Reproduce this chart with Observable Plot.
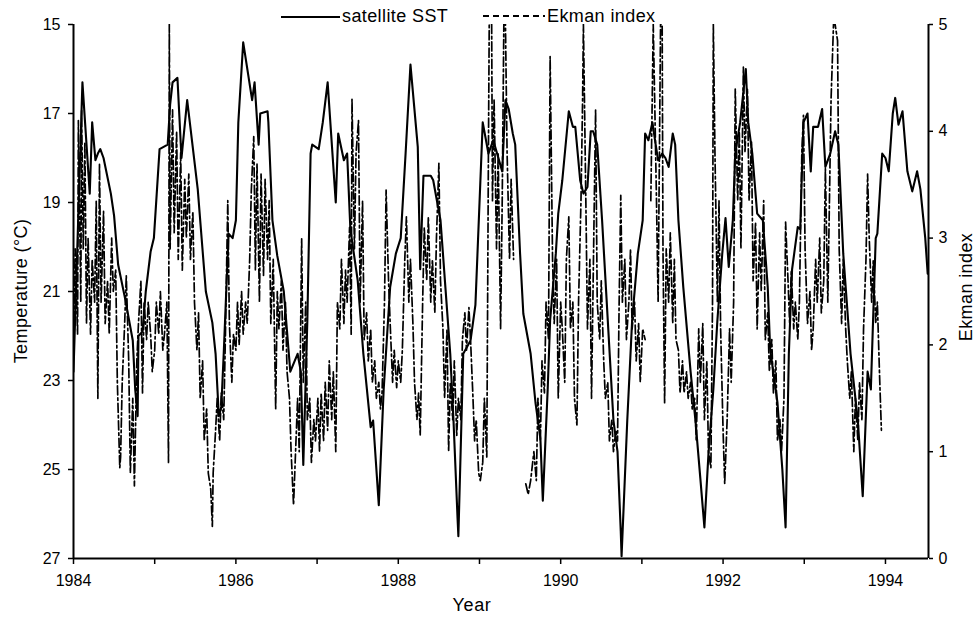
<!DOCTYPE html>
<html>
<head>
<meta charset="utf-8">
<script src="https://cdn.jsdelivr.net/npm/d3@7"></script>
<script src="https://cdn.jsdelivr.net/npm/@observablehq/plot@0.6"></script>
<style>
  html, body { margin: 0; padding: 0; background: #fff; }
  #wrap { position: relative; width: 979px; height: 618px; font-family: "Liberation Sans", Arial, Helvetica, sans-serif; }
  #overlay { position: absolute; left: 0; top: 0; pointer-events: none; }
</style>
</head>
<body>
<div id="wrap"></div>
<script>
// ---------- data ----------
const tempDomain = [15, 27];
const ekmanDomain = [0, 5];
const yearDomain = [1984, 1994.53];
const tempTicks = [15, 17, 19, 21, 23, 25, 27];
const ekmanTicks = [0, 1, 2, 3, 4, 5];
const yearTicks = [1984, 1985, 1986, 1987, 1988, 1989, 1990, 1991, 1992, 1993, 1994];
const yearTickLabels = ["1984", "", "1986", "", "1988", "", "1990", "", "1992", "", "1994"];

// satellite SST (°C)
const sst = [
[1984.00,22.8],[1984.11,16.3],[1984.20,18.8],[1984.23,17.2],[1984.27,18.05],[1984.30,17.9],[1984.33,17.8],[1984.37,18.0],
[1984.46,18.8],[1984.50,19.3],[1984.55,20.4],[1984.64,21.2],[1984.73,22.1],[1984.76,23.2],[1984.79,23.8],[1984.80,22.0],
[1984.85,21.9],[1984.89,21.0],[1984.95,20.1],[1984.99,19.8],[1985.06,17.8],[1985.16,17.7],[1985.19,16.8],[1985.22,16.3],
[1985.28,16.2],[1985.33,18.0],[1985.40,16.7],[1985.53,18.7],[1985.63,21.0],[1985.71,21.7],[1985.75,22.4],[1985.79,23.8],
[1985.82,23.6],[1985.85,22.4],[1985.91,19.7],[1985.96,19.8],[1986.00,19.4],[1986.03,17.2],[1986.09,15.4],[1986.20,16.7],
[1986.23,16.3],[1986.28,17.7],[1986.30,17.0],[1986.39,16.95],[1986.40,17.2],[1986.45,19.4],[1986.51,20.2],[1986.59,21.0],
[1986.67,22.8],[1986.76,22.4],[1986.80,22.8],[1986.83,24.9],[1986.88,21.65],[1986.92,17.9],[1986.94,17.7],[1987.02,17.8],
[1987.07,17.2],[1987.13,16.3],[1987.23,19.0],[1987.26,17.45],[1987.33,18.05],[1987.37,17.9],[1987.41,19.6],[1987.50,20.75],
[1987.57,22.4],[1987.66,24.05],[1987.69,23.9],[1987.76,25.8],[1987.82,23.2],[1987.90,20.9],[1987.97,20.15],[1988.03,19.8],
[1988.09,17.9],[1988.15,15.9],[1988.24,17.75],[1988.27,20.5],[1988.31,18.4],[1988.40,18.4],[1988.43,18.5],[1988.48,19.0],
[1988.52,19.4],[1988.58,20.9],[1988.64,22.4],[1988.68,23.9],[1988.73,26.1],[1988.74,26.5],[1988.80,22.4],[1988.89,22.1],
[1988.95,21.3],[1989.04,17.2],[1989.11,17.9],[1989.17,17.6],[1989.28,18.3],[1989.32,16.7],[1989.36,16.9],[1989.41,17.45],
[1989.44,17.7],[1989.50,20.15],[1989.54,21.5],[1989.63,22.4],[1989.69,23.5],[1989.75,24.3],[1989.78,25.7],[1989.84,23.2],
[1989.87,21.65],[1989.94,20.15],[1989.97,19.25],[1990.02,18.5],[1990.10,16.95],[1990.15,17.3],[1990.18,17.3],[1990.24,18.5],
[1990.28,18.8],[1990.33,18.65],[1990.37,17.4],[1990.40,17.4],[1990.45,17.7],[1990.51,19.4],[1990.58,21.65],[1990.65,23.9],
[1990.70,24.6],[1990.74,26.4],[1990.75,26.95],[1990.82,23.9],[1990.88,21.65],[1990.95,20.15],[1991.01,19.4],[1991.04,17.45],
[1991.08,17.6],[1991.13,17.2],[1991.17,17.7],[1991.20,18.05],[1991.25,17.9],[1991.29,18.0],[1991.33,18.2],[1991.38,17.45],
[1991.41,17.7],[1991.45,19.4],[1991.51,20.9],[1991.60,22.8],[1991.66,23.9],[1991.72,25.2],[1991.77,26.3],[1991.82,24.65],
[1991.88,23.2],[1991.93,21.65],[1991.99,20.15],[1992.03,19.35],[1992.07,20.45],[1992.12,19.4],[1992.15,17.9],[1992.21,17.2],
[1992.28,16.0],[1992.31,17.2],[1992.36,17.9],[1992.42,19.25],[1992.49,19.4],[1992.55,20.9],[1992.58,22.3],[1992.67,23.5],
[1992.73,25.0],[1992.77,26.3],[1992.81,22.4],[1992.85,20.5],[1992.92,19.55],[1992.95,19.6],[1992.99,17.2],[1993.04,17.0],
[1993.08,18.3],[1993.11,17.3],[1993.17,17.3],[1993.22,16.9],[1993.26,18.2],[1993.32,17.9],[1993.38,17.4],[1993.42,17.7],
[1993.48,20.15],[1993.57,22.4],[1993.66,23.9],[1993.72,25.6],[1993.78,22.8],[1993.82,23.2],[1993.88,19.8],[1993.90,19.7],
[1993.96,17.9],[1994.00,18.0],[1994.04,18.3],[1994.09,17.0],[1994.12,16.65],[1994.16,17.25],[1994.21,16.95],[1994.27,18.3],
[1994.33,18.75],[1994.39,18.3],[1994.43,18.7],[1994.49,19.8],[1994.52,20.6]
];

// Ekman index (values above 5 are cut at the top of the frame), null = gap
const ek1984 = [[1984.00,1.9],[1984.02,2.9],[1984.05,2.1],[1984.06,4.1],[1984.09,2.4],[1984.10,4.2],[1984.12,2.9],[1984.14,3.9],[1984.16,2.2],[1984.18,3.0],[1984.21,2.1],[1984.23,2.8],[1984.26,2.4],[1984.28,3.35],[1984.30,1.5],[1984.32,3.7],[1984.34,2.4],[1984.37,3.25],[1984.39,2.2],[1984.42,2.6],[1984.44,2.1],[1984.47,3.0],[1984.49,2.5],[1984.52,2.7],[1984.54,1.65],[1984.57,0.85],[1984.58,0.95],[1984.60,1.65],[1984.63,2.2],[1984.65,2.65],[1984.68,1.85],[1984.70,0.8],[1984.73,1.5],[1984.75,0.68],[1984.78,1.85],[1984.80,2.2],[1984.83,2.6],[1984.85,1.55],[1984.87,2.4],[1984.90,2.05],[1984.92,2.4],[1984.95,2.1],[1984.97,1.75]];
const ek1985 = [[1985.00,1.95],[1985.02,2.4],[1985.05,2.1],[1985.07,2.5],[1985.10,1.95],[1985.12,2.1],[1985.15,2.4],[1985.17,0.9],[1985.18,5.0],[1985.19,2.9],[1985.22,4.2],[1985.24,3.05],[1985.27,4.0],[1985.29,2.8],[1985.32,3.8],[1985.34,2.7],[1985.37,3.55],[1985.39,3.0],[1985.42,3.6],[1985.44,2.8],[1985.47,3.25],[1985.49,2.4],[1985.52,1.95],[1985.54,2.3],[1985.56,1.5],[1985.59,1.85],[1985.61,1.1],[1985.64,1.4],[1985.66,0.8],[1985.69,0.65],[1985.71,0.3],[1985.72,0.8],[1985.75,1.2],[1985.77,1.5],[1985.80,1.1],[1985.82,1.55],[1985.85,1.3],[1985.87,2.05],[1985.90,3.35],[1985.92,2.2],[1985.95,1.65],[1985.97,2.1]];
const ek1986 = [[1986.00,1.95],[1986.02,2.4],[1986.04,2.0],[1986.07,2.5],[1986.09,2.1],[1986.12,2.4],[1986.14,2.2],[1986.17,2.8],[1986.19,3.45],[1986.22,3.95],[1986.24,2.7],[1986.26,3.7],[1986.29,2.4],[1986.31,3.6],[1986.34,2.65],[1986.36,3.55],[1986.39,2.8],[1986.41,3.35],[1986.43,2.2],[1986.46,2.8],[1986.49,1.4],[1986.51,2.5],[1986.53,2.15],[1986.56,2.6],[1986.58,1.95],[1986.61,2.4],[1986.63,1.75],[1986.66,1.5],[1986.68,1.0],[1986.71,0.5],[1986.73,0.9],[1986.76,1.5],[1986.78,1.0],[1986.81,3.0],[1986.83,1.65],[1986.86,2.4],[1986.88,1.3],[1986.91,1.5],[1986.93,0.9],[1986.96,1.3],[1986.98,1.1]];
const ek1987 = [[1987.01,1.5],[1987.03,1.0],[1987.05,1.55],[1987.08,1.1],[1987.10,1.65],[1987.13,1.2],[1987.15,1.85],[1987.18,1.3],[1987.20,1.75],[1987.23,1.0],[1987.25,2.4],[1987.28,2.15],[1987.30,2.8],[1987.33,2.2],[1987.35,2.7],[1987.37,2.4],[1987.40,3.1],[1987.42,2.1],[1987.43,4.3],[1987.46,2.9],[1987.48,3.8],[1987.51,4.1],[1987.53,2.4],[1987.56,3.35],[1987.58,2.05],[1987.61,2.3],[1987.63,1.85],[1987.66,2.15],[1987.68,1.65],[1987.71,1.85],[1987.73,1.5],[1987.76,1.65],[1987.78,1.4],[1987.80,1.55],[1987.83,2.4],[1987.85,3.45],[1987.88,2.6],[1987.90,2.2],[1987.93,1.65],[1987.95,1.95],[1987.98,1.6]];
const ek1988 = [[1988.00,1.85],[1988.03,1.65],[1988.05,1.95],[1988.08,2.8],[1988.10,3.2],[1988.13,2.4],[1988.15,2.8],[1988.18,2.2],[1988.20,1.65],[1988.23,1.3],[1988.25,1.55],[1988.27,1.15],[1988.30,2.4],[1988.32,3.1],[1988.35,2.6],[1988.37,3.2],[1988.40,2.4],[1988.42,2.8],[1988.45,2.3],[1988.47,3.0],[1988.50,3.7],[1988.52,2.6],[1988.55,2.15],[1988.57,1.5],[1988.60,2.15],[1988.62,1.0],[1988.64,1.65],[1988.67,1.3],[1988.69,1.85],[1988.72,1.15],[1988.74,1.5],[1988.77,1.3],[1988.79,2.05],[1988.82,2.3],[1988.84,1.95],[1988.87,2.35],[1988.89,2.05],[1988.92,1.5],[1988.94,1.1],[1988.96,1.3],[1988.99,0.8]];
const ek1989 = [[1989.01,0.73],[1989.04,0.9],[1989.06,1.5],[1989.09,0.95],[1989.11,3.8],[1989.12,5.0],[1989.15,5.0],[1989.16,3.35],[1989.18,4.3],[1989.21,2.9],[1989.23,3.8],[1989.26,2.15],[1989.28,3.35],[1989.30,5.0],[1989.32,5.0],[1989.34,3.8],[1989.37,2.8],[1989.39,3.55],[1989.42,2.8],[1989.50,null],[1989.57,0.7],[1989.60,0.6],[1989.63,0.73],[1989.67,1.0],[1989.70,0.73],[1989.72,1.5],[1989.75,1.1],[1989.77,1.85],[1989.80,1.55],[1989.82,2.4],[1989.85,2.05],[1989.87,4.7],[1989.90,2.8],[1989.92,2.2],[1989.95,2.8],[1989.97,1.5]];
const ek1990 = [[1990.00,2.4],[1990.02,2.15],[1990.05,1.65],[1990.07,2.8],[1990.10,3.2],[1990.12,2.15],[1990.15,2.4],[1990.17,1.5],[1990.20,1.25],[1990.22,2.4],[1990.25,3.35],[1990.27,4.3],[1990.28,5.0],[1990.31,3.35],[1990.33,2.15],[1990.36,2.8],[1990.38,1.5],[1990.40,2.6],[1990.43,4.2],[1990.45,2.4],[1990.48,2.05],[1990.50,2.6],[1990.53,1.85],[1990.55,1.5],[1990.58,1.65],[1990.60,1.1],[1990.63,1.3],[1990.65,1.0],[1990.68,1.2],[1990.70,1.1],[1990.72,2.4],[1990.74,3.4],[1990.76,2.4],[1990.79,2.8],[1990.81,2.05],[1990.84,2.4],[1990.86,2.9],[1990.88,2.15],[1990.91,2.4],[1990.93,1.85],[1990.96,2.2],[1990.98,1.65]];
const ek1991 = [[1991.01,2.15],[1991.04,2.05],[1991.08,null],[1991.11,3.35],[1991.14,5.0],[1991.16,4.2],[1991.18,3.35],[1991.20,2.4],[1991.23,5.0],[1991.25,5.0],[1991.26,2.9],[1991.28,1.45],[1991.30,2.9],[1991.33,2.4],[1991.35,3.05],[1991.38,2.2],[1991.40,2.8],[1991.42,2.05],[1991.45,1.95],[1991.47,1.55],[1991.50,1.85],[1991.52,1.55],[1991.55,1.75],[1991.57,1.5],[1991.60,1.65],[1991.62,1.4],[1991.65,1.5],[1991.67,1.1],[1991.70,2.15],[1991.72,1.65],[1991.75,2.2],[1991.77,1.3],[1991.80,1.85],[1991.82,1.0],[1991.85,0.85],[1991.87,2.4],[1991.88,5.0],[1991.90,3.8],[1991.93,2.4],[1991.95,3.35],[1991.97,2.15]];
const ek1992 = [[1992.00,1.2],[1992.02,0.7],[1992.05,1.3],[1992.08,2.15],[1992.10,1.65],[1992.13,2.4],[1992.15,4.4],[1992.18,3.35],[1992.20,4.0],[1992.22,2.9],[1992.25,4.6],[1992.27,3.8],[1992.30,4.4],[1992.32,3.35],[1992.35,3.9],[1992.37,2.6],[1992.40,3.15],[1992.42,2.15],[1992.45,3.05],[1992.47,2.5],[1992.50,3.35],[1992.52,2.05],[1992.55,2.3],[1992.57,1.75],[1992.60,2.05],[1992.62,1.55],[1992.65,1.85],[1992.67,1.1],[1992.70,1.3],[1992.72,1.0],[1992.75,1.5],[1992.77,3.15],[1992.80,2.6],[1992.82,2.2],[1992.84,2.7],[1992.87,2.15],[1992.89,2.4],[1992.92,2.05],[1992.94,2.4],[1992.97,3.8],[1992.99,4.15]];
const ek1993 = [[1993.01,2.9],[1993.04,2.2],[1993.07,2.5],[1993.09,1.95],[1993.11,2.15],[1993.14,2.8],[1993.16,2.4],[1993.19,3.0],[1993.21,2.3],[1993.24,2.6],[1993.26,3.65],[1993.29,2.4],[1993.31,3.35],[1993.33,4.3],[1993.36,5.0],[1993.38,5.0],[1993.41,4.85],[1993.43,2.9],[1993.46,2.2],[1993.48,2.8],[1993.51,2.15],[1993.53,1.85],[1993.56,1.5],[1993.58,1.75],[1993.61,1.0],[1993.63,1.5],[1993.66,1.1],[1993.68,1.65],[1993.71,1.3],[1993.73,2.15],[1993.76,2.8],[1993.78,3.6],[1993.80,3.0],[1993.83,2.4],[1993.85,2.8],[1993.88,2.2],[1993.90,2.4],[1993.93,1.65],[1993.95,1.2]];

const ekman = [].concat(ek1984, ek1985, ek1986, ek1987, ek1988, ek1989, ek1990, ek1991, ek1992, ek1993);

// ---------- chart ----------
// map the right-hand Ekman scale (0..5) onto the shared temperature axis (27..15)
const ekToTemp = d3.scaleLinear(ekmanDomain, [tempDomain[1], tempDomain[0]]);
const labelOf = new Map(yearTicks.map((y, i) => [y, yearTickLabels[i]]));
const font = '"Liberation Sans", Arial, Helvetica, sans-serif';

const chart = Plot.plot({
  width: 979,
  height: 618,
  marginTop: 24,
  marginRight: 51,
  marginBottom: 60,
  marginLeft: 73,
  style: { fontFamily: font, fontSize: "16px", color: "black", background: "white", overflow: "visible" },
  x: { domain: yearDomain },
  y: { domain: tempDomain, reverse: true },
  marks: [
    Plot.line(ekman, {
      x: d => d[0],
      y: d => d[1] == null ? NaN : ekToTemp(d[1]),
      stroke: "black", strokeWidth: 1.7, strokeDasharray: "9,3,2.5,3", clip: true
    }),
    Plot.line(sst, { x: d => d[0], y: d => d[1], stroke: "black", strokeWidth: 2.1, clip: true }),
    Plot.ruleX(yearDomain, { stroke: "black", strokeWidth: 2 }),
    Plot.ruleY([tempDomain[1]], { stroke: "black", strokeWidth: 2.2 }),
    Plot.axisY(tempTicks, { anchor: "left", tickSize: 5, tickPadding: 8, label: null, tickFormat: d => String(d), fontSize: 16, strokeWidth: 1.5 }),
    Plot.axisY(ekmanTicks.map(e => ekToTemp(e)), { anchor: "right", tickSize: 4, tickPadding: 6, label: null,
      tickFormat: t => String(Math.round(ekToTemp.invert(t))), fontSize: 16, strokeWidth: 1.5 }),
    Plot.axisX(yearTicks, { anchor: "bottom", tickSize: 6, tickPadding: 10, label: null,
      tickFormat: y => labelOf.get(y), fontSize: 16, strokeWidth: 1.5 })
  ]
});

const wrap = document.getElementById("wrap");
wrap.appendChild(chart);

// legend and axis titles as text overlay
const ns = "http://www.w3.org/2000/svg";
const ov = document.createElementNS(ns, "svg");
ov.setAttribute("id", "overlay");
ov.setAttribute("width", 979);
ov.setAttribute("height", 618);
ov.innerHTML = `
  <g font-family='${font}' fill='black' font-size='18'>
    <line x1='281' x2='340' y1='17' y2='17' stroke='black' stroke-width='2.2'/>
    <text x='342' y='22' letter-spacing='0.4'>satellite SST</text>
    <line x1='483' x2='545' y1='16' y2='16' stroke='black' stroke-width='1.8' stroke-dasharray='6,4'/>
    <text x='547' y='22' letter-spacing='0.4'>Ekman index</text>
    <text transform='translate(27,291) rotate(-90)' text-anchor='middle' letter-spacing='0.4'>Temperature (°C)</text>
    <text transform='translate(972,287) rotate(-90)' text-anchor='middle' letter-spacing='0.4'>Ekman index</text>
    <text x='472' y='611' text-anchor='middle' letter-spacing='0.6'>Year</text>
  </g>`;
wrap.appendChild(ov);
</script>
</body>
</html>
